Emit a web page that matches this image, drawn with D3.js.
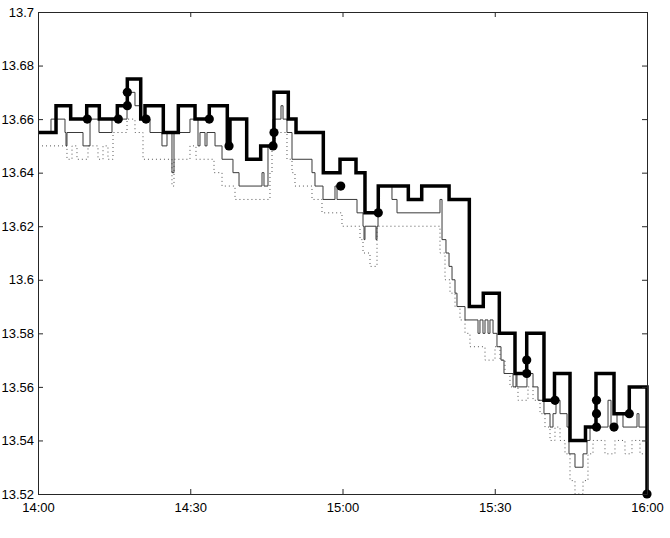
<!DOCTYPE html>
<html>
<head>
<meta charset="utf-8">
<script src="https://cdn.jsdelivr.net/npm/d3@7"></script>
<style>
    body { margin: 0; background: #fff; }
    #quote-chart { width: 670px; height: 538px; }
    text { font-family: "Liberation Sans", Arial, sans-serif; font-size: 13px; fill: #000; }
</style>
</head>
<body>
<div id="quote-chart"></div>
<script>
// minutes after 14:00 / price
const askTimes = [0, 3.55, 6.44, 9.6, 12.08, 15.63, 17.6, 20.24, 21.08, 24.69, 27.65, 30.94, 33.75, 37.3, 37.83,
    41.12, 43.88, 46.5, 49.32, 50.84, 56.22, 59.51, 62.66, 64.43, 67.05, 72.97, 75.61, 81.0, 84.99, 87.74,
    90.9, 93.99, 96.3, 99.7, 101.77, 104.83, 107.88, 109.95, 113.5, 116.51, 120];
const askPrices = [13.655, 13.665, 13.66, 13.665, 13.66, 13.665, 13.675, 13.66, 13.665, 13.655, 13.665, 13.66, 13.665, 13.65, 13.66,
    13.645, 13.65, 13.67, 13.66, 13.655, 13.64, 13.645, 13.64, 13.625, 13.635, 13.63, 13.635, 13.63, 13.59, 13.595,
    13.58, 13.565, 13.58, 13.555, 13.565, 13.54, 13.545, 13.565, 13.55, 13.56, 13.52];

const bidTimes = [0, 2.56, 5.32, 5.52, 5.71, 8.87, 10.25, 12.02, 14.58, 17.54, 19.11, 20.1, 22.07, 24.43, 25.42, 26.4, 26.8,
    29.95, 31.53, 31.92, 32.91, 33.3, 34.88, 36.26, 38.42, 39.61, 44.14, 44.53, 45.32, 46.31, 47.88, 48.28, 49.06,
    50.05, 53.99, 54.58, 56.16, 58.52, 58.92, 62.86, 64.04, 64.24, 64.43, 66.6, 66.8, 67.0, 69.75, 70.74, 79.21,
    79.61, 80.39, 80.99, 81.58, 82.17, 82.56, 84.14, 86.7, 87.09, 87.68, 88.08, 88.67, 89.06, 89.66, 90.44, 91.23,
    91.82, 93.6, 94.19, 94.38, 96.35, 97.54, 98.52, 99.7, 100.89, 101.48, 102.07, 102.86, 104.24, 104.63, 105.81,
    107.39, 108.18, 108.77, 112.32, 112.91, 114.09, 115.27, 118.03, 118.42, 120];
const bidPrices = [13.655, 13.66, 13.655, 13.65, 13.655, 13.65, 13.66, 13.655, 13.66, 13.67, 13.665, 13.66, 13.655, 13.65, 13.655, 13.64, 13.655,
    13.66, 13.65, 13.655, 13.65, 13.655, 13.65, 13.645, 13.64, 13.635, 13.64, 13.635, 13.65, 13.66, 13.665, 13.66, 13.655,
    13.645, 13.64, 13.635, 13.63, 13.635, 13.63, 13.625, 13.62, 13.615, 13.62, 13.615, 13.62, 13.635, 13.63, 13.625, 13.63,
    13.615, 13.61, 13.605, 13.6, 13.595, 13.59, 13.585, 13.58, 13.585, 13.58, 13.585, 13.58, 13.585, 13.58, 13.575, 13.57,
    13.565, 13.56, 13.565, 13.56, 13.565, 13.56, 13.555, 13.55, 13.545, 13.55, 13.555, 13.55, 13.545, 13.535, 13.53,
    13.535, 13.54, 13.545, 13.555, 13.545, 13.55, 13.545, 13.55, 13.545, 13.545];

const lowTimes = [0, 5.71, 6.7, 7.68, 9.85, 11.82, 12.81, 13.79, 14.78, 17.54, 19.11, 20.69, 26.4, 26.8, 29.95, 31.13,
    34.68, 36.26, 38.82, 45.71, 46.11, 46.7, 49.06, 50.05, 50.64, 53.99, 55.96, 59.9, 63.45, 64.04, 65.42, 66.8,
    79.21, 80.2, 81.18, 82.17, 83.15, 84.14, 85.12, 88.08, 90.05, 91.03, 92.02, 93.0, 94.58, 96.55, 97.54, 98.92,
    99.9, 100.89, 101.87, 102.86, 103.84, 104.83, 105.81, 107.39, 108.37, 109.36, 111.72, 113.69, 115.66, 117.04,
    118.62, 120];
const lowPrices = [13.65, 13.645, 13.65, 13.645, 13.65, 13.645, 13.65, 13.645, 13.655, 13.66, 13.655, 13.645, 13.635, 13.645, 13.65, 13.645,
    13.64, 13.635, 13.63, 13.64, 13.65, 13.655, 13.645, 13.64, 13.635, 13.63, 13.625, 13.62, 13.615, 13.61, 13.605, 13.62,
    13.61, 13.6, 13.595, 13.59, 13.585, 13.58, 13.575, 13.57, 13.575, 13.57, 13.565, 13.56, 13.555, 13.56, 13.555, 13.55,
    13.545, 13.54, 13.545, 13.54, 13.535, 13.525, 13.52, 13.525, 13.535, 13.54, 13.535, 13.54, 13.535, 13.54,
    13.535, 13.53];

const tradeTimes = [9.71, 15.82, 17.6, 17.6, 21.28, 33.75, 37.64, 46.31, 46.5, 59.65, 67.05, 96.3, 96.3, 101.87,
    110.05, 110.05, 110.05, 113.5, 116.51, 120];
const tradePrices = [13.66, 13.66, 13.665, 13.67, 13.66, 13.66, 13.65, 13.65, 13.655, 13.635, 13.625, 13.57, 13.565, 13.555,
    13.555, 13.55, 13.545, 13.545, 13.55, 13.52];

const xTicks = [0, 30, 60, 90, 120];
const xTickLabels = ["14:00", "14:30", "15:00", "15:30", "16:00"];
const yTicks = [13.52, 13.54, 13.56, 13.58, 13.6, 13.62, 13.64, 13.66, 13.68, 13.7];
const yTickLabels = ["13.52", "13.54", "13.56", "13.58", "13.6", "13.62", "13.64", "13.66", "13.68", "13.7"];

render();

function render() {
    const divID = d3.select('#quote-chart');
    quote_chart(divID, {
        width: 670,
        height: 538,
        margin: { top: 12, bottom: 44, left: 38, right: 23 }
    });
}

function quote_chart(selection, props) {
    const { width, height, margin } = props;
    const innerW = width - margin.left - margin.right;
    const innerH = height - margin.top - margin.bottom;

    const svg = selection.append('svg')
        .attr('width', width)
        .attr('height', height);

    const x = d3.scaleLinear().domain([0, 120]).range([margin.left, margin.left + innerW]);
    const y = d3.scaleLinear().domain([13.52, 13.7]).range([margin.top + innerH, margin.top]);

    svg.append('clipPath').attr('id', 'plot-clip')
        .append('rect')
        .attr('x', margin.left - 6).attr('y', margin.top - 6)
        .attr('width', innerW + 12).attr('height', innerH + 12);

    const zip = (ts, ps) => ts.map((t, i) => [t, ps[i]]);
    const stepLine = d3.line()
        .x(d => x(d[0]))
        .y(d => y(d[1]))
        .curve(d3.curveStepAfter);

    const g = svg.append('g').attr('clip-path', 'url(#plot-clip)');

    // lowest quote, dotted
    g.append('path')
        .attr('d', stepLine(zip(lowTimes, lowPrices)))
        .attr('fill', 'none')
        .attr('stroke', '#555')
        .attr('stroke-width', 1)
        .attr('stroke-dasharray', '1,3');

    // bid, thin
    g.append('path')
        .attr('d', stepLine(zip(bidTimes, bidPrices)))
        .attr('fill', 'none')
        .attr('stroke', '#3a3a3a')
        .attr('stroke-width', 1);

    // ask, thick
    g.append('path')
        .attr('d', stepLine(zip(askTimes, askPrices)))
        .attr('fill', 'none')
        .attr('stroke', '#000')
        .attr('stroke-width', 3.5)
        .attr('stroke-linejoin', 'miter');

    // trades
    g.selectAll('circle.trade')
        .data(zip(tradeTimes, tradePrices))
        .join('circle')
        .attr('class', 'trade')
        .attr('cx', d => x(d[0]))
        .attr('cy', d => y(d[1]))
        .attr('r', 4.6)
        .attr('fill', '#000');

    // axes box with inward ticks on all sides
    const axisColor = '#262626';
    const tickLen = 5;

    svg.append('g')
        .attr('transform', `translate(0,${margin.top + innerH})`)
        .call(d3.axisBottom(x).tickValues(xTicks).tickSizeInner(-tickLen).tickSizeOuter(0)
            .tickFormat((d, i) => xTickLabels[i]).tickPadding(9))
        .call(a => a.select('.domain').attr('stroke', axisColor))
        .call(a => a.selectAll('line').attr('stroke', axisColor))
        .call(a => a.selectAll('text').attr('font-size', 13).attr('font-family', '"Liberation Sans", Arial, sans-serif'));

    svg.append('g')
        .attr('transform', `translate(0,${margin.top})`)
        .call(d3.axisTop(x).tickValues(xTicks).tickSizeInner(-tickLen).tickSizeOuter(0).tickFormat(''))
        .call(a => a.select('.domain').attr('stroke', axisColor))
        .call(a => a.selectAll('line').attr('stroke', axisColor));

    svg.append('g')
        .attr('transform', `translate(${margin.left},0)`)
        .call(d3.axisLeft(y).tickValues(yTicks).tickSizeInner(-tickLen).tickSizeOuter(0)
            .tickFormat((d, i) => yTickLabels[i]).tickPadding(4))
        .call(a => a.select('.domain').attr('stroke', axisColor))
        .call(a => a.selectAll('line').attr('stroke', axisColor))
        .call(a => a.selectAll('text').attr('font-size', 13).attr('font-family', '"Liberation Sans", Arial, sans-serif'));

    svg.append('g')
        .attr('transform', `translate(${margin.left + innerW},0)`)
        .call(d3.axisRight(y).tickValues(yTicks).tickSizeInner(-tickLen).tickSizeOuter(0).tickFormat(''))
        .call(a => a.select('.domain').attr('stroke', axisColor))
        .call(a => a.selectAll('line').attr('stroke', axisColor));
}
</script>
</body>
</html>
